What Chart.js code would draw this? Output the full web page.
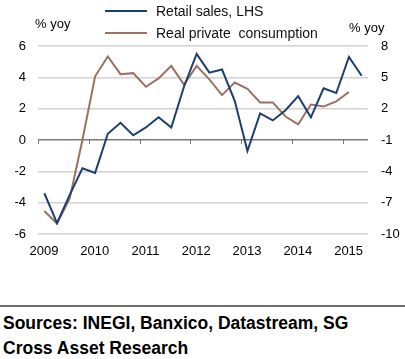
<!DOCTYPE html>
<html>
<head>
<meta charset="utf-8">
<script src="https://cdn.jsdelivr.net/npm/chart.js@4.4.1/dist/chart.umd.min.js"></script>
<style>
  body { margin: 0; background: #fff; width: 405px; height: 359px; overflow: hidden; position: relative; }
  #wrap { position: absolute; left: 0; top: 0; width: 405px; height: 290px; }
  #rule { position: absolute; left: 0; top: 305px; width: 405px; height: 2px; background: #6e6e6e; }
  #src { position: absolute; left: 3px; top: 311px; font: bold 17.5px "Liberation Sans", Arial, sans-serif; line-height: 25px; color: #000; }
</style>
</head>
<body>
<div id="wrap"><canvas id="myChart"></canvas></div>
<div id="rule"></div>
<div id="src">Sources: INEGI, Banxico, Datastream, SG<br>Cross Asset Research</div>
<script>
// quarterly data, 2009Q1 - 2015Q2
var quarters = ['2009Q1','2009Q2','2009Q3','2009Q4','2010Q1','2010Q2','2010Q3','2010Q4',
                '2011Q1','2011Q2','2011Q3','2011Q4','2012Q1','2012Q2','2012Q3','2012Q4',
                '2013Q1','2013Q2','2013Q3','2013Q4','2014Q1','2014Q2','2014Q3','2014Q4',
                '2015Q1','2015Q2'];
// retail sales, % yoy (left axis)
var retailSales = [-3.4, -5.3, -3.5, -1.8, -2.1, 0.4, 1.1, 0.3,
                   0.8, 1.45, 0.8, 3.4, 5.5, 4.3, 4.5, 2.5,
                   -0.7, 1.7, 1.25, 1.9, 2.8, 1.45, 3.3, 3.0,
                   5.3, 4.1];
// real private consumption, % yoy (right axis)
var privateConsumption = [-7.8, -9.0, -6.6, -1.0, 5.1, 7.0, 5.3, 5.4,
                          4.1, 4.9, 6.1, 4.3, 6.1, 4.8, 3.3, 4.5,
                          3.9, 2.6, 2.6, 1.25, 0.5, 2.4, 2.2, 2.7,
                          3.6, null];
var yearTicks = [2009, 2010, 2011, 2012, 2013, 2014, 2015];
var leftTicks = [-6, -4, -2, 0, 2, 4, 6];
var rightTicks = [-10, -7, -4, -1, 2, 5, 8];

function qpos(q) {
  return parseInt(q.slice(0, 4)) + (parseInt(q.slice(5)) - 0.5) / 4;
}
function toPoints(vals) {
  return quarters.map(function (q, i) { return { x: qpos(q), y: vals[i] }; });
}

Chart.defaults.font.family = '"Liberation Sans", Arial, sans-serif';
Chart.defaults.font.size = 13;
Chart.defaults.color = '#000';

var BLUE = '#1c3f72';
var BROWN = '#9b7262';

var extras = {
  id: 'extras',
  afterDraw: function (chart) {
    var c = chart.ctx;
    var x = chart.scales.x, y = chart.scales.y;
    c.save();
    // tick marks on zero line
    c.strokeStyle = '#777';
    c.lineWidth = 1;
    var y0 = y.getPixelForValue(0);
    yearTicks.forEach(function (v) {
      var px = Math.round(x.getPixelForValue(v)) + 0.5;
      c.beginPath(); c.moveTo(px, y0); c.lineTo(px, y0 + 4); c.stroke();
    });
    // legend
    c.lineWidth = 2;
    c.font = '14px "Liberation Sans", Arial, sans-serif';
    c.textBaseline = 'middle';
    c.fillStyle = '#111';
    c.strokeStyle = BLUE;
    c.beginPath(); c.moveTo(105, 11); c.lineTo(147, 11); c.stroke();
    c.fillText('Retail sales, LHS', 156, 12);
    c.strokeStyle = BROWN;
    c.beginPath(); c.moveTo(105, 33); c.lineTo(147, 33); c.stroke();
    c.fillText('Real private  consumption', 156, 34);
    // axis units
    c.font = '13px "Liberation Sans", Arial, sans-serif';
    c.fillStyle = '#000';
    c.fillText('% yoy', 35, 24);
    c.fillText('% yoy', 349, 28);
    c.restore();
  }
};

var ctx = document.getElementById('myChart').getContext('2d');
var myChart = new Chart(ctx, {
  type: 'line',
  data: {
    datasets: [{
      label: 'Retail sales, LHS',
      data: toPoints(retailSales),
      borderColor: BLUE,
      borderWidth: 2,
      pointRadius: 0,
      tension: 0,
      yAxisID: 'y'
    }, {
      label: 'Real private consumption',
      data: toPoints(privateConsumption),
      borderColor: BROWN,
      borderWidth: 2,
      pointRadius: 0,
      tension: 0,
      yAxisID: 'y1'
    }]
  },
  options: {
    responsive: true,
    maintainAspectRatio: false,
    animation: false,
    layout: { padding: { top: 46, left: 0, right: 0, bottom: 0 } },
    plugins: { legend: { display: false }, tooltip: { enabled: false } },
    scales: {
      x: {
        type: 'linear',
        min: 2009,
        max: 2015.5,
        afterBuildTicks: function (s) { s.ticks = yearTicks.map(function (v) { return { value: v }; }); },
        afterFit: function (s) { s.height = 56; },
        grid: { display: false, drawTicks: false },
        border: { display: false },
        ticks: { autoSkip: false, maxRotation: 0, padding: 10, labelOffset: 6,
                 callback: function (v) { return String(v); } }
      },
      y: {
        position: 'left',
        min: -6,
        max: 6,
        afterBuildTicks: function (s) { s.ticks = leftTicks.map(function (v) { return { value: v }; }); },
        afterFit: function (s) { s.width = 38; },
        border: { display: false },
        grid: {
          drawTicks: false,
          color: function (c) { return c.tick && c.tick.value === 0 ? '#7a7a7a' : '#d2d2d2'; },
          lineWidth: 1.5
        },
        ticks: { padding: 12 }
      },
      y1: {
        position: 'right',
        min: -10,
        max: 8,
        afterBuildTicks: function (s) { s.ticks = rightTicks.map(function (v) { return { value: v }; }); },
        afterFit: function (s) { s.width = 37; },
        border: { display: false },
        grid: { display: false, drawTicks: false },
        ticks: { padding: 13 }
      }
    }
  },
  plugins: [extras]
});
</script>
</body>
</html>
